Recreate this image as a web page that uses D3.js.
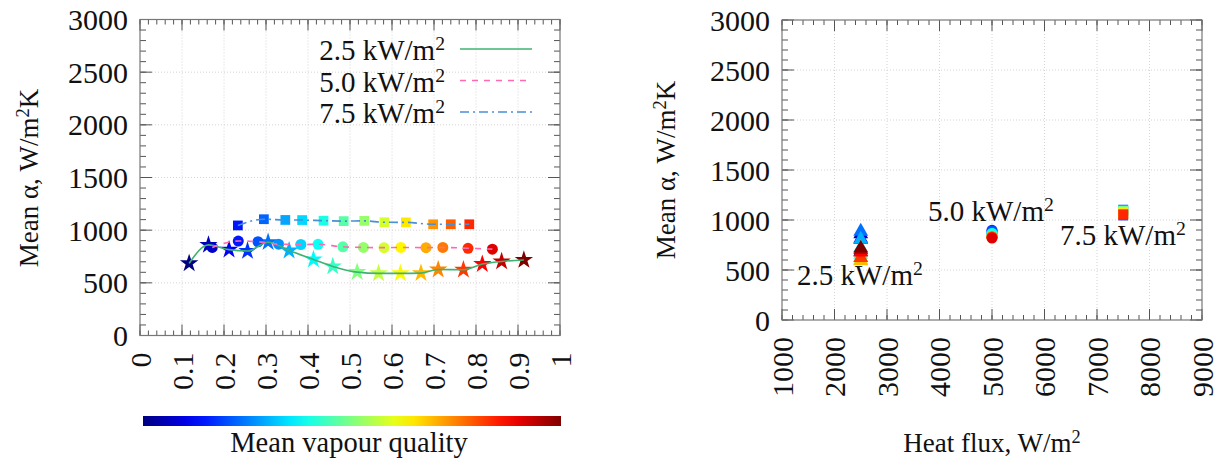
<!DOCTYPE html>
<html>
<head>
<meta charset="utf-8">
<script src="https://cdn.jsdelivr.net/npm/d3@7"></script>
<style>
  body { margin: 0; background: #fff; }
  svg { display: block; font-family: "Liberation Serif", "DejaVu Serif", serif; }
  .tick-label { font-size: 30px; fill: #111; }
</style>
</head>
<body>
<svg id="chart" width="1223" height="466"></svg>
<script>
// Data: mean vapour quality and mean heat transfer coefficient
const q25 = [0.117, 0.163, 0.212, 0.256, 0.305, 0.355, 0.413, 0.459, 0.517, 0.568, 0.620, 0.669, 0.710, 0.770, 0.815, 0.861, 0.914];
const a25 = [685, 860, 815, 802, 886, 806, 722, 656, 602, 590, 590, 592, 626, 624, 678, 703, 717];
const q50 = [0.172, 0.234, 0.281, 0.330, 0.383, 0.424, 0.483, 0.532, 0.581, 0.621, 0.681, 0.721, 0.781, 0.839];
const a50 = [836, 897, 890, 867, 864, 866, 842, 836, 834, 836, 834, 836, 828, 820];
const q75 = [0.233, 0.295, 0.346, 0.386, 0.437, 0.485, 0.534, 0.582, 0.633, 0.698, 0.740, 0.784];
const a75 = [1045, 1104, 1097, 1096, 1090, 1086, 1088, 1075, 1074, 1056, 1056, 1056];
const heatFlux = [2500, 5000, 7500];
const seriesNames = ['2.5', '5.0', '7.5'];

const xTicksLeft = d3.range(0, 1.0001, 0.1);
const xTicksRight = d3.range(1000, 9001, 1000);
const yTicks = d3.range(0, 3001, 500);

const series = [
    { name: seriesNames[0], flux: heatFlux[0], q: q25, a: a25, color: '#3cb371', dash: null, symbol: d3.symbolStar, rsymbol: d3.symbolTriangle },
    { name: seriesNames[1], flux: heatFlux[1], q: q50, a: a50, color: '#ff69b4', dash: '6,6', symbol: d3.symbolCircle, rsymbol: d3.symbolCircle },
    { name: seriesNames[2], flux: heatFlux[2], q: q75, a: a75, color: '#4a8fd6', dash: '9,4,2,4', symbol: d3.symbolSquare, rsymbol: d3.symbolSquare }
];

// jet colour map
function jet(t) {
    const c = v => Math.max(0, Math.min(1, v));
    const r = c(1.5 - Math.abs(4 * t - 3));
    const g = c(1.5 - Math.abs(4 * t - 2));
    const b = c(1.5 - Math.abs(4 * t - 1));
    return d3.rgb(r * 255, g * 255, b * 255).toString();
}
const allQ = [].concat(q25, q50, q75);
const qNorm = d3.scaleLinear().domain(d3.extent(allQ)).range([0, 1]).clamp(true);
const colorOf = q => jet(qNorm(q));

const svg = d3.select('#chart');
svg.append('rect').attr('width', 1223).attr('height', 466).attr('fill', '#fff');

// Draw a framed panel with inner ticks on all four sides
function panel(x, y, xTicks, xMinorStep, yMinorStep) {
    const g = svg.append('g');
    const [x0, x1] = x.range();
    const [y0, y1] = y.range();

    // grid
    g.selectAll('.gx').data(xTicks.slice(1, -1)).enter().append('line')
        .attr('x1', d => x(d)).attr('x2', d => x(d)).attr('y1', y0).attr('y2', y1)
        .attr('stroke', '#d4d4d4').attr('stroke-dasharray', '1,2');
    g.selectAll('.gy').data(yTicks.slice(1, -1)).enter().append('line')
        .attr('y1', d => y(d)).attr('y2', d => y(d)).attr('x1', x0).attr('x2', x1)
        .attr('stroke', '#d4d4d4').attr('stroke-dasharray', '1,2');

    const xd = x.domain(), yd = y.domain();
    const xMinor = d3.range(xd[0], xd[1] + 1e-9, xMinorStep);
    const yMinor = d3.range(yd[0], yd[1] + 1e-9, yMinorStep);
    const tk = '#555';

    // minor ticks
    xMinor.forEach(v => {
        g.append('line').attr('x1', x(v)).attr('x2', x(v)).attr('y1', y0).attr('y2', y0 - 5).attr('stroke', tk);
        g.append('line').attr('x1', x(v)).attr('x2', x(v)).attr('y1', y1).attr('y2', y1 + 5).attr('stroke', tk);
    });
    yMinor.forEach(v => {
        g.append('line').attr('y1', y(v)).attr('y2', y(v)).attr('x1', x0).attr('x2', x0 + 6).attr('stroke', tk);
        g.append('line').attr('y1', y(v)).attr('y2', y(v)).attr('x1', x1).attr('x2', x1 - 6).attr('stroke', tk);
    });
    // major ticks
    xTicks.forEach(v => {
        g.append('line').attr('x1', x(v)).attr('x2', x(v)).attr('y1', y0).attr('y2', y0 - 11).attr('stroke', tk);
        g.append('line').attr('x1', x(v)).attr('x2', x(v)).attr('y1', y1).attr('y2', y1 + 11).attr('stroke', tk);
    });
    yTicks.forEach(v => {
        g.append('line').attr('y1', y(v)).attr('y2', y(v)).attr('x1', x0).attr('x2', x0 + 12).attr('stroke', tk);
        g.append('line').attr('y1', y(v)).attr('y2', y(v)).attr('x1', x1).attr('x2', x1 - 12).attr('stroke', tk);
    });

    g.append('rect').attr('x', x0).attr('y', y1).attr('width', x1 - x0).attr('height', y0 - y1)
        .attr('fill', 'none').attr('stroke', '#777').attr('stroke-width', 1.2);

    // y tick labels
    g.selectAll('.yl').data(yTicks).enter().append('text')
        .attr('class', 'tick-label')
        .attr('x', x0 - 12).attr('y', d => y(d)).attr('dy', '0.35em')
        .attr('text-anchor', 'end').text(d => d);
    // x tick labels, rotated
    g.selectAll('.xl').data(xTicks).enter().append('text')
        .attr('class', 'tick-label')
        .attr('transform', d => `translate(${x(d)},${y0 + 17}) rotate(-90)`)
        .attr('dy', '0.35em')
        .attr('text-anchor', 'end').text(d => d3.format('~g')(+d.toFixed(6)));
    return g;
}

function unitText(sel, prefix) {
    sel.append('tspan').text(prefix + ' kW/m');
    sel.append('tspan').attr('font-size', '0.68em').attr('dy', '-0.5em').text('2');
}

function yTitle(cx, cy) {
    const t = svg.append('text').attr('transform', `translate(${cx},${cy}) rotate(-90)`)
        .attr('text-anchor', 'middle').attr('font-size', 27).attr('fill', '#111');
    t.append('tspan').text('Mean \u03b1, W/m');
    t.append('tspan').attr('font-size', '0.68em').attr('dy', '-0.5em').text('2');
    t.append('tspan').attr('dy', '0.34em').text('K');
}

// ---------- Left panel ----------
const xL = d3.scaleLinear().domain([0, 1]).range([140, 560]);
const yL = d3.scaleLinear().domain([0, 3000]).range([335.5, 19.5]);
panel(xL, yL, xTicksLeft, 0.02, 100);
yTitle(38, 178);

const line = d3.line().x(d => xL(d[0])).y(d => yL(d[1])).curve(d3.curveMonotoneX);

series.forEach(s => {
    const pts = s.q.map((q, i) => [q, s.a[i]]);
    svg.append('g').selectAll('path').data(pts).enter().append('path')
        .attr('transform', d => `translate(${xL(d[0])},${yL(d[1])})`)
        .attr('d', d3.symbol().type(s.symbol).size(s.symbol === d3.symbolStar ? 105 : 95))
        .attr('fill', d => colorOf(d[0]));
});
series.forEach(s => {
    const pts = s.q.map((q, i) => [q, s.a[i]]);
    svg.append('path').datum(pts).attr('d', line)
        .attr('fill', 'none').attr('stroke', s.color).attr('stroke-width', 1.6)
        .attr('stroke-dasharray', s.dash);
});

// legend
series.forEach((s, i) => {
    const by = 60 + i * 31.5;
    const t = svg.append('text').attr('x', 445).attr('y', by).attr('text-anchor', 'end')
        .attr('font-size', 29).attr('fill', '#111');
    unitText(t, s.name);
    svg.append('line').attr('x1', 460).attr('x2', 532).attr('y1', by - 11).attr('y2', by - 11)
        .attr('stroke', s.color).attr('stroke-width', 1.6).attr('stroke-dasharray', s.dash);
});

// colour bar
const grad = svg.append('defs').append('linearGradient').attr('id', 'jetGrad');
d3.range(0, 1.0001, 0.05).forEach(t => {
    grad.append('stop').attr('offset', t).attr('stop-color', jet(t));
});
svg.append('rect').attr('x', 143).attr('y', 416).attr('width', 418).attr('height', 10)
    .attr('fill', 'url(#jetGrad)');
svg.append('text').attr('x', 349).attr('y', 452).attr('text-anchor', 'middle')
    .attr('font-size', 28.5).attr('fill', '#111').text('Mean vapour quality');

// ---------- Right panel ----------
const xR = d3.scaleLinear().domain([1000, 9000]).range([782, 1202]);
const yR = d3.scaleLinear().domain([0, 3000]).range([320, 20]);
panel(xR, yR, xTicksRight, 200, 100);
yTitle(675, 170);

series.forEach(s => {
    svg.append('g').selectAll('path').data(s.q.map((q, i) => [q, s.a[i]])).enter().append('path')
        .attr('transform', d => `translate(${xR(s.flux)},${yR(d[1])})`)
        .attr('d', d3.symbol().type(s.rsymbol).size(95))
        .attr('fill', d => colorOf(d[0]));
});

const annot = [[797, 285], [928, 221], [1060, 245]];
series.forEach((s, i) => {
    const t = svg.append('text').attr('x', annot[i][0]).attr('y', annot[i][1])
        .attr('font-size', 29).attr('fill', '#111');
    unitText(t, s.name);
});

const xt = svg.append('text').attr('x', 992).attr('y', 452).attr('text-anchor', 'middle')
    .attr('font-size', 27).attr('fill', '#111');
xt.append('tspan').text('Heat flux, W/m');
xt.append('tspan').attr('font-size', '0.68em').attr('dy', '-0.5em').text('2');
</script>
</body>
</html>
